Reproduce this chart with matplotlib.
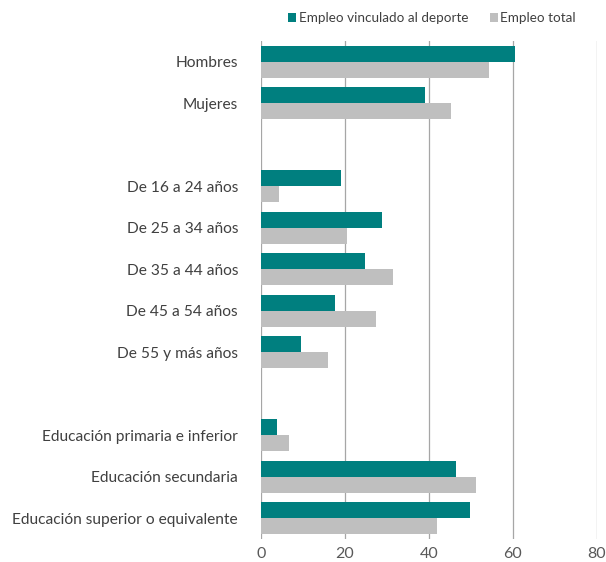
import matplotlib
matplotlib.use("Agg")
import matplotlib.pyplot as plt
import numpy as np

plt.rcParams['font.family'] = ['Lato', 'DejaVu Sans']

categories = ["Hombres", "Mujeres",
              "De 16 a 24 años", "De 25 a 34 años", "De 35 a 44 años",
              "De 45 a 54 años", "De 55 y más años",
              "Educación primaria e inferior", "Educación secundaria",
              "Educación superior o equivalente"]
group_sizes = [2, 5, 3]
deporte = [60.5, 39.0, 19.0, 28.9, 24.7, 17.6, 9.6, 3.8, 46.4, 49.7]
total = [54.2, 45.3, 4.4, 20.5, 31.5, 27.3, 16.0, 6.6, 51.3, 42.0]
xticks = [0, 20, 40, 60, 80]
series_names = ["Empleo vinculado al deporte", "Empleo total"]

teal = "#007F7F"
grey = "#BFBFBF"

# positions with blank row between groups
pos = []
row = 0
for gi, n in enumerate(group_sizes):
    for i in range(n):
        pos.append(row)
        row += 1
    row += 1
nrows = row - 1
pos = np.array(pos, dtype=float)

fig = plt.figure(figsize=(6.06, 5.62), dpi=100)
ax = fig.add_axes([261/606, 1-539/562, (597-261)/606, (539-41)/562])

h = 0.385
ax.barh(pos - h/2, deporte, height=h, color=teal, label=series_names[0], zorder=3)
ax.barh(pos + h/2, total, height=h, color=grey, label=series_names[1], zorder=3)

ax.set_ylim(nrows - 0.5, -0.5)
ax.set_xlim(0, 80)
ax.set_xticks(xticks)
ax.set_yticks(pos)
ax.set_yticklabels(categories, fontsize=11.2, color="#404040")
ax.tick_params(axis='x', labelsize=11.5, colors="#595959", length=0, pad=6)
ax.tick_params(axis='y', length=0, pad=16.5)
for s in ax.spines.values():
    s.set_visible(False)
ax.grid(axis='x', color="#A6A6A6", linewidth=0.9, zorder=0)
ax.set_axisbelow(True)

leg = fig.legend(loc='center', bbox_to_anchor=(432/606, 1-18/562), ncol=2,
                 frameon=False, fontsize=9.7, handlelength=0.6, handleheight=0.6,
                 handletextpad=0.2, columnspacing=1.6)
for t in leg.get_texts():
    t.set_color("#404040")

fig.savefig("out.png", dpi=100)
